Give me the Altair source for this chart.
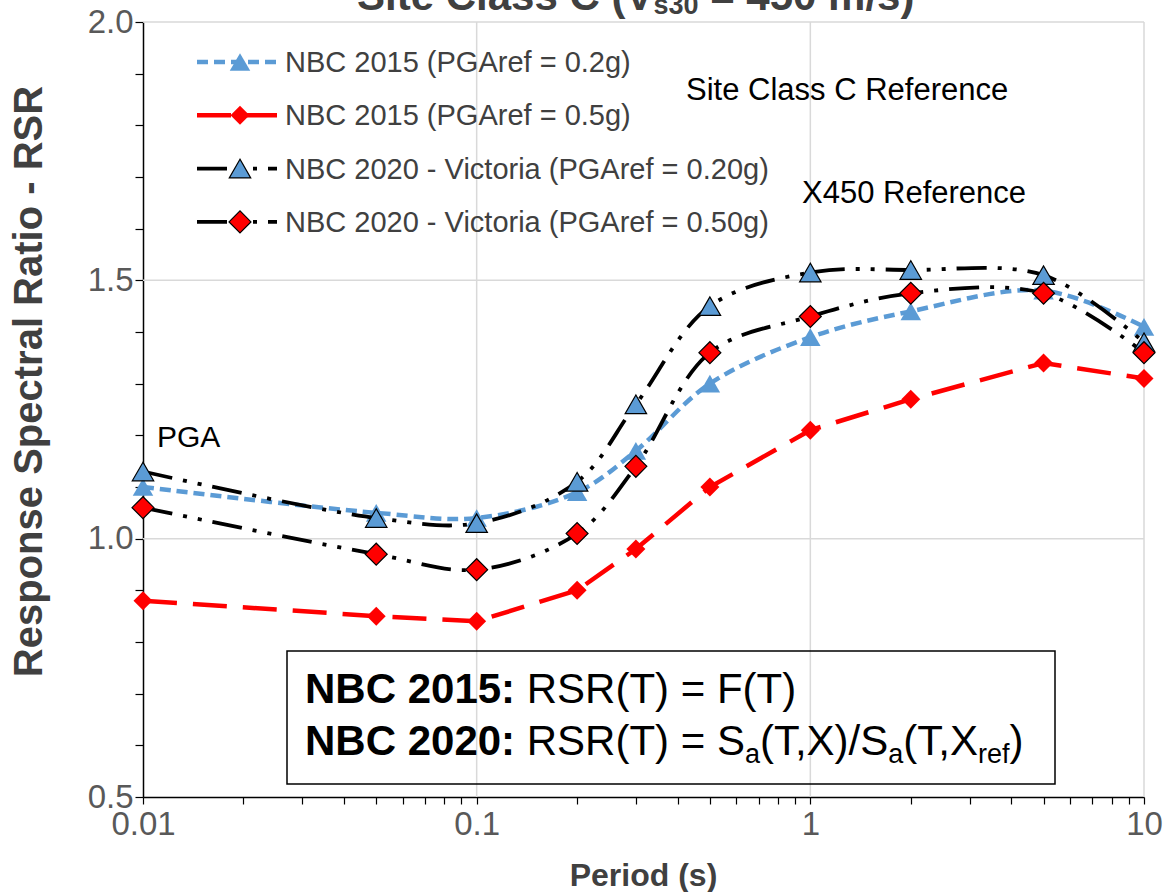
import altair as alt
import pandas as pd

# ---------------- data ----------------
periods = [0.01, 0.05, 0.1, 0.2, 0.3, 0.5, 1, 2, 5, 10]
nbc2015_02 = [1.10, 1.05, 1.04, 1.09, 1.17, 1.30, 1.39, 1.44, 1.48, 1.41]
nbc2015_05 = [0.88, 0.85, 0.84, 0.90, 0.98, 1.10, 1.21, 1.27, 1.34, 1.31]
nbc2020_020 = [1.13, 1.04, 1.03, 1.11, 1.26, 1.45, 1.515, 1.52, 1.51, 1.38]
nbc2020_050 = [1.06, 0.97, 0.94, 1.01, 1.14, 1.36, 1.43, 1.475, 1.475, 1.36]
series_values = [nbc2015_02, nbc2015_05, nbc2020_020, nbc2020_050]
series_labels = [
    "NBC 2015 (PGAref = 0.2g)",
    "NBC 2015 (PGAref = 0.5g)",
    "NBC 2020 - Victoria (PGAref = 0.20g)",
    "NBC 2020 - Victoria (PGAref = 0.50g)",
]
x_grid = [0.1, 1, 10]
y_grid = [1.0, 1.5, 2.0]
x_tick_values = [0.01, 0.02, 0.03, 0.04, 0.05, 0.06, 0.07, 0.08, 0.09,
                 0.1, 0.2, 0.3, 0.4, 0.5, 0.6, 0.7, 0.8, 0.9,
                 1, 2, 3, 4, 5, 6, 7, 8, 9, 10]
y_tick_values = [0.5, 0.6, 0.7, 0.8, 0.9, 1.0, 1.1, 1.2, 1.3, 1.4, 1.5,
                 1.6, 1.7, 1.8, 1.9, 2.0]

# ---------------- layout ----------------
FONT = "Liberation Sans, Arial, sans-serif"
PL, PT, W, H = 143, 22, 1001, 775   # plot-area origin & size in page pixels


def px(x):
    return x - PL


def py(y):
    return y - PT


DASHDOT = [30, 11, 4, 11, 4, 11]
styles = [
    dict(color="#5B9BD5", dash=[11, 6], width=4.5, shape="triangle-up",
         fill="#5B9BD5", stroke="#5B9BD5", sw=0, size=420, interp="catmull-rom"),
    dict(color="#FF0000", dash=[34, 16], width=4.5, shape="diamond",
         fill="#FF0000", stroke="#FF0000", sw=0, size=360, interp="linear"),
    dict(color="#000000", dash=DASHDOT, width=3.8, shape="triangle-up",
         fill="#5B9BD5", stroke="#000000", sw=1.2, size=460, interp="catmull-rom"),
    dict(color="#000000", dash=DASHDOT, width=3.8, shape="diamond",
         fill="#FF0000", stroke="#000000", sw=1.2, size=480, interp="catmull-rom"),
]

X_ENC = alt.X(
    "T:Q",
    scale=alt.Scale(type="log", domain=[0.01, 10], nice=False),
    axis=alt.Axis(
        values=x_tick_values,
        labelExpr="abs(log(datum.value)/LN10 - round(log(datum.value)/LN10)) < 0.001 ? format(datum.value, '~g') : ''",
        grid=False, tickSize=7, tickColor="#000000", tickWidth=1.2,
        domainColor="#000000", domainWidth=1.5,
        labelFont=FONT, labelFontSize=33, labelColor="#595959", labelPadding=4,
        labelOverlap=False, labelFlush=False,
        title="Period (s)", titleFont=FONT, titleFontSize=32, titleFontWeight="bold",
        titleColor="#404040", titleX=500, titleY=78, titleBaseline="middle",
    ),
)
Y_ENC = alt.Y(
    "RSR:Q",
    scale=alt.Scale(domain=[0.5, 2.0], nice=False, zero=False),
    axis=alt.Axis(
        values=y_tick_values,
        labelExpr="abs(datum.value*2 - round(datum.value*2)) < 0.001 ? format(datum.value, '.1f') : ''",
        grid=False, tickSize=8, tickColor="#000000", tickWidth=1.2,
        domainColor="#000000", domainWidth=1.5,
        labelFont=FONT, labelFontSize=33, labelColor="#595959", labelPadding=2,
        labelOverlap=False, labelFlush=False,
        title="Response Spectral Ratio - RSR", titleFont=FONT, titleFontSize=40,
        titleFontWeight="bold", titleColor="#404040",
        titleX=-114, titleY=359, titleBaseline="middle",
    ),
)

layers = []

# gridlines
layers.append(alt.Chart(pd.DataFrame({"T": x_grid})).mark_rule(color="#D9D9D9", strokeWidth=1.5).encode(x=X_ENC))
layers.append(alt.Chart(pd.DataFrame({"RSR": y_grid})).mark_rule(color="#D9D9D9", strokeWidth=1.5).encode(y=Y_ENC))

# series
for vals, st in zip(series_values, styles):
    df = pd.DataFrame({"T": periods, "RSR": vals})
    base = alt.Chart(df)
    layers.append(base.mark_line(color=st["color"], strokeWidth=st["width"], strokeDash=st["dash"],
                                 interpolate=st["interp"], strokeCap="butt").encode(x=X_ENC, y=Y_ENC))
    layers.append(base.mark_point(shape=st["shape"], filled=True, fill=st["fill"], stroke=st["stroke"],
                                  strokeWidth=st["sw"], size=st["size"], opacity=1).encode(x=X_ENC, y=Y_ENC))

# legend (drawn by hand)
LEG_Y0, LEG_DY = 62, 53.3
for i, (lab, st) in enumerate(zip(series_labels, styles)):
    yy = py(LEG_Y0 + i * LEG_DY)
    layers.append(alt.Chart().mark_rule(color=st["color"], strokeWidth=st["width"], strokeDash=st["dash"]).encode(
        x=alt.value(px(197)), x2=alt.value(px(277)), y=alt.value(yy)))
    layers.append(alt.Chart().mark_point(shape=st["shape"], filled=True, fill=st["fill"], stroke=st["stroke"],
                                         strokeWidth=st["sw"], size=st["size"], opacity=1).encode(
        x=alt.value(px(240)), y=alt.value(yy)))
    layers.append(alt.Chart().mark_text(align="left", baseline="middle", font=FONT, fontSize=29,
                                        color="#404040").encode(
        x=alt.value(px(285)), y=alt.value(yy + 1), text=alt.value(lab)))

# Arial / Liberation Sans advance widths (per 1000 em) and the kerning pairs used here
REG = {" ": 278, "(": 333, ")": 333, ",": 278, "/": 278, ":": 278, "=": 584, "-": 333, ".": 278,
       "A": 667, "B": 667, "C": 722, "F": 611, "G": 778, "N": 722, "P": 667, "R": 722, "S": 667,
       "T": 611, "V": 667, "X": 667, "a": 556, "c": 500, "e": 556, "f": 278, "g": 556, "i": 222,
       "l": 222, "m": 833, "n": 556, "o": 556, "r": 333, "s": 500, "t": 278}
BOLD = {" ": 278, "(": 333, ")": 333, ":": 333, "=": 584, "/": 278, "B": 722, "C": 722, "N": 722,
        "S": 667, "V": 667, "a": 556, "e": 556, "i": 278, "l": 278, "m": 889, "s": 556, "t": 333}
KERN = {"T,": -111}


def text_width(s, size, bold):
    table = BOLD if bold else REG
    w = sum((556 if ch.isdigit() else table.get(ch, 556)) for ch in s)
    if not bold:
        w += sum(KERN.get(s[k:k + 2], 0) for k in range(len(s) - 1))
    return w * size / 1000.0


def rich_text(runs, x0, base_y, color):
    """runs: list of (text, size, bold, dy); leading spaces become offsets (SVG drops them)."""
    out = []
    x = x0
    for txt, size, bold, dy in runs:
        stripped = txt.lstrip(" ")
        x += text_width(txt[: len(txt) - len(stripped)], size, bold)
        out.append(alt.Chart().mark_text(align="left", baseline="alphabetic", font=FONT, fontSize=size,
                                         fontWeight="bold" if bold else "normal", color=color).encode(
            x=alt.value(px(x)), y=alt.value(py(base_y + dy)), text=alt.value(stripped)))
        x += text_width(stripped, size, bold)
    return out


# chart title (cut off at the top, as in the reference)
layers += rich_text([("Site Class C (V", 42, True, 0), ("s30", 27, True, 4), (" = 450 m/s)", 42, True, 0)],
                    357, 10, "#404040")

# annotations
layers += rich_text([("Site Class C Reference", 31, False, 0)], 686, 100, "#000000")
layers += rich_text([("X450 Reference", 31, False, 0)], 802, 203, "#000000")
layers += rich_text([("PGA", 30, False, 0)], 157, 447, "#000000")

# formula box
layers.append(alt.Chart().mark_rect(fillOpacity=0, stroke="#000000", strokeWidth=1.5).encode(
    x=alt.value(px(287)), x2=alt.value(px(1055)), y=alt.value(py(651)), y2=alt.value(py(784))))
layers += rich_text([("NBC 2015:", 42, True, 0), (" RSR(T) = F(T)", 42, False, 0)], 305, 703, "#000000")
layers += rich_text([("NBC 2020:", 42, True, 0), (" RSR(T) = S", 42, False, 0), ("a", 27, False, 8),
                     ("(T,X)/S", 42, False, 0), ("a", 27, False, 8), ("(T,X", 42, False, 0),
                     ("ref", 27, False, 8), (")", 42, False, 0)], 305, 755, "#000000")

chart = alt.layer(*layers).properties(
    width=W, height=H,
    autosize=alt.AutoSizeParams(type="none"),
    padding={"left": PL, "top": PT, "right": 1165 - PL - W, "bottom": 892 - PT - H},
    background="#FFFFFF",
).configure_view(strokeWidth=0)

chart.save("out.html", embed_options={"renderer": "svg", "actions": False})
